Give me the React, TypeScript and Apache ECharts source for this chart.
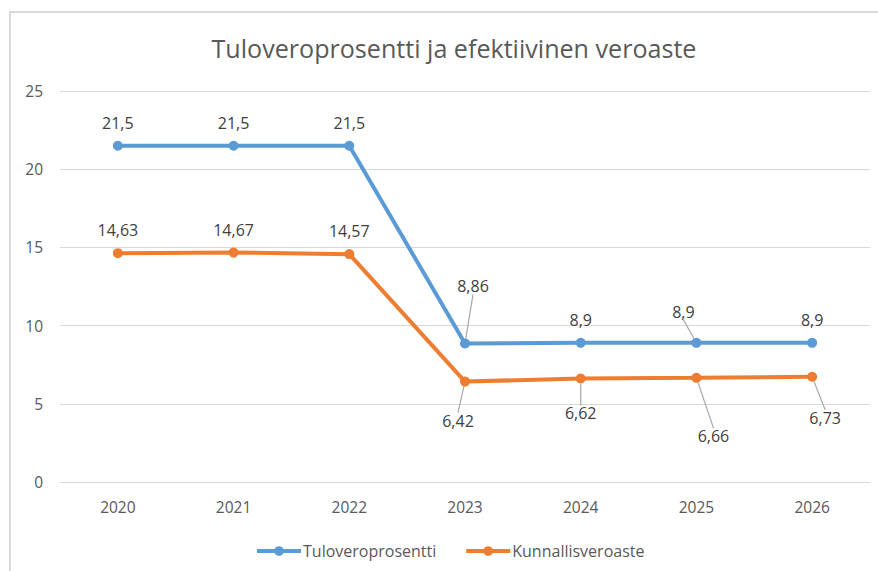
import React, { useEffect, useRef } from "react";
import * as echarts from "echarts";

const years = ["2020", "2021", "2022", "2023", "2024", "2025", "2026"];
const tuloveroprosentti = [21.5, 21.5, 21.5, 8.86, 8.9, 8.9, 8.9];
const kunnallisveroaste = [14.63, 14.67, 14.57, 6.42, 6.62, 6.66, 6.73];
const seriesNames = ["Tuloveroprosentti", "Kunnallisveroaste"];
const titleText = "Tuloveroprosentti ja efektiivinen veroaste";

// label placement (position + extra offset in px) for each point
const bluePos = ["top", "top", "top", "top", "top", "top", "top"];
const blueShift: ([number, number] | null)[] = [null, null, null, [8, -34], null, [-13, -8], null];
const orangePos = ["top", "top", "top", "bottom", "bottom", "bottom", "bottom"];
const orangeShift: ([number, number] | null)[] = [null, null, null, [-7, 16], [0, 12], [17, 35], [13, 18]];

const FONT = "'Open Sans', 'Noto Sans', sans-serif";
const fmt = (v: number) => String(v).replace(".", ",");

function buildData(values: number[], pos: string[], shift: ([number, number] | null)[]) {
  return values.map((v, i) => ({
    value: v,
    label: { position: pos[i] },
    labelLine: { show: !!shift[i] },
  }));
}

export default function App() {
  const ref = useRef<HTMLDivElement>(null);
  useEffect(() => {
    if (!ref.current) return;
    const chart = echarts.init(ref.current, undefined, { renderer: "svg" });
    const shifts = [blueShift, orangeShift];
    const labelCommon = {
      show: true,
      distance: 10,
      fontSize: 16,
      color: "#404040",
      fontFamily: FONT,
      formatter: (p: any) => fmt(p.value),
    };
    chart.setOption({
      animation: false,
      backgroundColor: "#fff",
      title: {
        text: titleText,
        left: 449,
        textAlign: "center",
        top: 30,
        textStyle: { fontSize: 25.1, fontWeight: "normal", color: "#595959", fontFamily: FONT },
      },
      graphic: [
        {
          type: "rect",
          z: -10,
          shape: { x: 10, y: 12, width: 900, height: 600 },
          style: { fill: "none", stroke: "#d9d9d9", lineWidth: 2 },
        },
      ],
      grid: { left: 60, right: 8, top: 91, bottom: 89 },
      legend: {
        data: seriesNames,
        top: 538,
        left: 250,
        itemWidth: 44,
        itemHeight: 12,
        itemGap: 28,
        lineStyle: { width: 4 },
        textStyle: { fontSize: 16, color: "#595959", fontFamily: FONT, padding: [0, 0, 0, -3] },
      },
      xAxis: {
        type: "category",
        data: years,
        boundaryGap: true,
        axisLine: { show: true, lineStyle: { color: "#d9d9d9", width: 1 } },
        axisTick: { show: false },
        axisLabel: { fontSize: 15.5, color: "#595959", fontFamily: FONT, margin: 17 },
      },
      yAxis: {
        type: "value",
        min: 0,
        max: 25,
        interval: 5,
        axisLine: { show: false },
        axisTick: { show: false },
        splitLine: { lineStyle: { color: "#d9d9d9", width: 1 } },
        axisLabel: { fontSize: 15.5, color: "#595959", fontFamily: FONT, margin: 17 },
      },
      series: [
        {
          name: seriesNames[0],
          type: "line",
          data: buildData(tuloveroprosentti, bluePos, blueShift),
          symbol: "circle",
          symbolSize: 10,
          color: "#5b9bd5",
          lineStyle: { width: 4, color: "#5b9bd5" },
          itemStyle: { color: "#5b9bd5" },
          label: labelCommon,
          labelLine: { show: false, lineStyle: { color: "#a6a6a6", width: 1.2 } },
          z: 3,
        },
        {
          name: seriesNames[1],
          type: "line",
          data: buildData(kunnallisveroaste, orangePos, orangeShift),
          symbol: "circle",
          symbolSize: 10,
          color: "#ed7d31",
          lineStyle: { width: 4, color: "#ed7d31" },
          itemStyle: { color: "#ed7d31" },
          label: labelCommon,
          labelLine: { show: false, lineStyle: { color: "#a6a6a6", width: 1.2 } },
          z: 2,
        },
      ],
      labelLayout: (params: any) => {
        const s = shifts[params.seriesIndex]?.[params.dataIndex];
        if (!s) return {};
        return { dx: s[0], dy: s[1] };
      },
    });
    return () => chart.dispose();
  }, []);
  return (
    <div style={{ position: "fixed", left: 0, top: 0, width: 878, height: 571, background: "#fff" }}>
      <div ref={ref} style={{ width: 878, height: 571 }} />
    </div>
  );
}
